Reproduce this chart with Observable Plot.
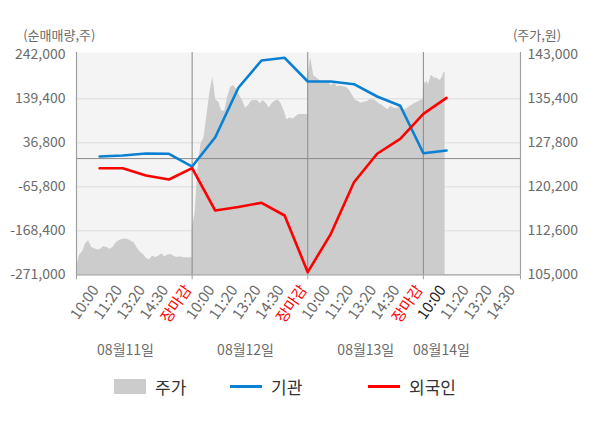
<!DOCTYPE html>
<html>
<head>
<meta charset="utf-8">
<script src="https://cdn.jsdelivr.net/npm/d3@7"></script>
<script src="https://cdn.jsdelivr.net/npm/@observablehq/plot@0.6"></script>
<style>
  html, body { margin: 0; padding: 0; background: #fff; }
  body { font-family: "Noto Sans CJK KR", "Noto Sans", sans-serif; }
  #wrap { position: relative; width: 600px; height: 428px; overflow: hidden; }
  #chart { position: absolute; left: 0; top: 0; }
  .leg { position: absolute; top: 375px; height: 22px; display: flex; align-items: center;
         font-size: 17px; color: #333; white-space: nowrap; }
  .sw { display: inline-block; width: 32px; margin-right: 9px; }
</style>
</head>
<body>
<div id="wrap"><div id="chart"></div></div>
<script>
// ---------------- data ----------------
const dayLabels = ["08월11일", "08월12일", "08월13일", "08월14일"];
const dayLabelAt = [2.12, 7.31, 12.51, 15.78];            // x position (slot units)
const slotLabels = [
  "10:00", "11:20", "13:20", "14:30", "장마감",
  "10:00", "11:20", "13:20", "14:30", "장마감",
  "10:00", "11:20", "13:20", "14:30", "장마감",
  "10:00", "11:20", "13:20", "14:30"
];
const currentSlot = 16; // 08/14 10:00 highlighted

// net buying (shares), one value per slot 1..16
const institution = [4850, 7200, 11800, 11200, -18500,
                     49900, 165100, 228700, 235000, 179700,
                     179700, 173400, 144800, 123100, 12500,
                     18800];
const foreign = [-22400, -22400, -39500, -48800, -22400,
                 -121100, -112900, -103100, -132700, -264900,
                 -175400, -55100, 11200, 46100, 104400,
                 141700];

// intraday share price (won)
const priceDay1 = [106200, 108400, 109000, 110400, 110900, 109700, 109500, 109300, 109400, 109900,
                   109700, 109400, 109700, 110500, 110900, 111100, 111200, 111100, 110800, 110500,
                   109600, 108900, 108500, 107800, 107600, 108200, 108000, 108200, 108600, 108100,
                   108400, 108500, 108200, 108000, 108100, 108000, 107950, 107950, 107950];
const priceDay2 = [112900, 115600, 123600, 127600, 128700, 132500, 136500, 139100, 135200, 134800,
                   133300, 133300, 135700, 137400, 137700, 137000, 136000, 135100, 133800, 134200,
                   135000, 135100, 135100, 134600, 135100, 134600, 133800, 134600, 135000, 135200,
                   134600, 133400, 131800, 132100, 131900, 132300, 132700, 132700, 132700, 132700];
const priceDay3 = [139100, 142500, 139400, 139000, 138600, 138200, 138350, 138300, 137700, 138100,
                   137500, 137600, 137500, 137400, 136900, 136100, 135200, 134950, 134650, 134800,
                   134900, 135300, 135250, 135000, 134600, 134300, 133900, 133500, 134100, 133800,
                   133700, 134050, 133500, 133500, 133950, 134200, 134600, 134800, 135100, 135250];
const priceDay4 = [137100, 138300, 138000, 138500, 137800, 138600, 139400, 139400, 139100, 138900,
                   139000, 138900, 138700, 138600, 138800, 139300, 139900, 140000];
const priceDays = [priceDay1, priceDay2, priceDay3, priceDay4];
const daySpan = [5, 5, 5, 0.94];   // portion of the session covered (slot units)

const leftTicks = [-271000, -168400, -65800, 36800, 139400, 242000];
const rightTicks = [105000, 112600, 120200, 127800, 135400, 143000];

const seriesNames = ["주가", "기관", "외국인"];
const seriesColors = ["#cccccc", "#0a80d2", "#ff0000"];

// ---------------- build ----------------
const toLeft = d3.scaleLinear([rightTicks[0], rightTicks[5]], [leftTicks[0], leftTicks[5]]);

const priceData = [];
priceDays.forEach((arr, k) => {
  arr.forEach((p, i) => {
    priceData.push({x: 5 * k + daySpan[k] * i / (arr.length - 1), v: toLeft(p)});
  });
});
const instData = institution.map((v, i) => ({x: i + 1, v}));
const forData = foreign.map((v, i) => ({x: i + 1, v}));
const slotData = slotLabels.map((t, i) => ({
  x: i + 1, t,
  c: t === "장마감" ? "#ff0000" : (i + 1 === currentSlot ? "#222222" : "#6b6b6b")
}));
const dayData = dayLabels.map((t, i) => ({t, x: dayLabelAt[i]}));
const fmt = (d) => Math.round(d).toLocaleString("en-US");

const chart = Plot.plot({
  width: 600,
  height: 365,
  marginLeft: 76,
  marginRight: 80,
  marginTop: 52,
  marginBottom: 90.7,
  style: {fontFamily: '"Noto Sans CJK KR", "Noto Sans", sans-serif', background: "transparent"},
  x: {domain: [0, 19.2], axis: null, label: null},
  y: {domain: [leftTicks[0], leftTicks[5]], insetTop: 2.3, axis: null, label: null},
  color: {type: "identity"},
  marks: [
    Plot.frame({fill: "#f4f4f4", stroke: null}),
    Plot.ruleY(leftTicks.slice(1, 5), {stroke: "#dcdcdc", strokeWidth: 1}),
    Plot.areaY(priceData, {x: "x", y1: leftTicks[0], y2: "v", fill: seriesColors[0], curve: "linear"}),
    Plot.ruleX([5, 10, 15], {stroke: "#8a8a8a", strokeWidth: 1}),
    Plot.ruleY([0], {stroke: "#8a8a8a", strokeWidth: 1}),
    Plot.ruleY([leftTicks[0]], {stroke: "#a0a0a0", strokeWidth: 1.2}),
    Plot.ruleX([0, 19.2], {stroke: "#a0a0a0", strokeWidth: 1.2}),
    Plot.axisX([0, 5, 10, 15, 19.2], {tickSize: 5, tickFormat: () => "", stroke: "#a0a0a0", label: null}),
    Plot.line(instData, {x: "x", y: "v", stroke: seriesColors[1], strokeWidth: 2.6}),
    Plot.line(forData, {x: "x", y: "v", stroke: seriesColors[2], strokeWidth: 2.6}),
    Plot.axisY(leftTicks, {anchor: "left", tickSize: 0, tickPadding: 11, tickFormat: fmt, label: null,
                           fontSize: 14, fill: "#6b6b6b"}),
    Plot.axisY(leftTicks, {anchor: "right", tickSize: 0, tickPadding: 7, label: null,
                           tickFormat: (d) => fmt(toLeft.invert(d)), fontSize: 14, fill: "#6b6b6b"}),
    Plot.text(slotData, {x: "x", text: "t", fill: "c", frameAnchor: "bottom", dy: 15, rotate: -55,
                         textAnchor: "end", fontSize: 15}),
    Plot.text(dayData, {x: "x", text: "t", frameAnchor: "bottom", dy: 80, fill: "#6b6b6b", fontSize: 14}),
    Plot.text(["(순매매량,주)"], {frameAnchor: "top-left", dx: -53.3, dy: -21.5, textAnchor: "start",
                               fill: "#6b6b6b", fontSize: 13}),
    Plot.text(["(주가,원)"], {frameAnchor: "top-right", dx: 40.7, dy: -21.5, textAnchor: "end",
                             fill: "#6b6b6b", fontSize: 13})
  ]
});
document.getElementById("chart").appendChild(chart);

// legend
const wrap = document.getElementById("wrap");
const legendLeft = [114, 230, 368];
seriesNames.forEach((name, i) => {
  const item = document.createElement("div");
  item.className = "leg";
  item.style.left = legendLeft[i] + "px";
  const sw = document.createElement("span");
  sw.className = "sw";
  sw.style.height = i === 0 ? "15px" : "3px";
  sw.style.background = seriesColors[i];
  item.appendChild(sw);
  item.appendChild(document.createTextNode(name));
  wrap.appendChild(item);
});
</script>
</body>
</html>
